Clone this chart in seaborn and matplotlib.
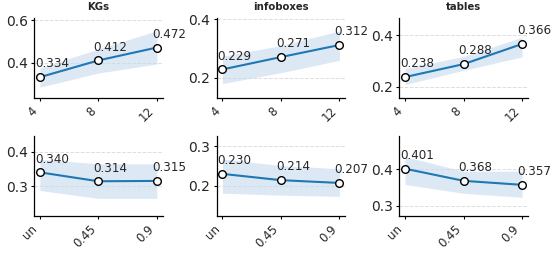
"""Line plots with confidence bands for KGs / infoboxes / tables."""

import matplotlib
matplotlib.use('Agg')
import matplotlib.pyplot as plt
import pandas as pd
import seaborn as sns

sources = ['KGs', 'infoboxes', 'tables']
top_labels = ['4', '8', '12']
bottom_labels = ['un', '0.45', '0.9']

# top row: varying size
top_mean = {
    'KGs': [0.334, 0.412, 0.472],
    'infoboxes': [0.229, 0.271, 0.312],
    'tables': [0.238, 0.288, 0.366],
}
top_low = {
    'KGs': [0.287, 0.353, 0.395],
    'infoboxes': [0.181, 0.218, 0.260],
    'tables': [0.209, 0.264, 0.316],
}
top_high = {
    'KGs': [0.377, 0.465, 0.550],
    'infoboxes': [0.274, 0.310, 0.360],
    'tables': [0.271, 0.318, 0.392],
}

# bottom row: varying threshold
bottom_mean = {
    'KGs': [0.340, 0.314, 0.315],
    'infoboxes': [0.230, 0.214, 0.207],
    'tables': [0.401, 0.368, 0.357],
}
bottom_low = {
    'KGs': [0.287, 0.264, 0.264],
    'infoboxes': [0.181, 0.176, 0.173],
    'tables': [0.358, 0.334, 0.323],
}
bottom_high = {
    'KGs': [0.378, 0.365, 0.365],
    'infoboxes': [0.268, 0.251, 0.243],
    'tables': [0.434, 0.394, 0.394],
}

top_ylim = {'KGs': (0.237, 0.61), 'infoboxes': (0.132, 0.404), 'tables': (0.157, 0.467)}
bottom_ylim = {'KGs': (0.2125, 0.446), 'infoboxes': (0.123, 0.326), 'tables': (0.272, 0.49)}
top_yticks = {'KGs': [0.4, 0.6], 'infoboxes': [0.2, 0.4], 'tables': [0.2, 0.4]}
bottom_yticks = {'KGs': [0.3, 0.4], 'infoboxes': [0.2, 0.3], 'tables': [0.3, 0.4]}

LINE = '#1f77b4'
BAND = '#c6dbef'


def _plot(ax, labels, mean, low, high, ylim, yticks, title=None):
    df = pd.DataFrame({'pos': range(len(labels)), 'score': mean})
    ax.fill_between(df['pos'], low, high, color=BAND, alpha=0.6, linewidth=0)
    sns.lineplot(data=df, x='pos', y='score', ax=ax, color=LINE, linewidth=1.5,
                 marker='o', markersize=5.5, markerfacecolor='white',
                 markeredgecolor='black', markeredgewidth=1.0, zorder=3)
    for x, y in zip(df['pos'], mean):
        ax.annotate(f'{y:.3f}', (x, y), xytext=(-3.5, 7), textcoords='offset points',
                    ha='left', va='baseline', fontsize=8.6)
    ax.set_xlim(-0.1, len(labels) - 0.9)
    ax.set_xticks(list(df['pos']))
    ax.set_xticklabels(labels, rotation=45, ha='right', fontsize=8.5)
    ax.set_ylim(*ylim)
    ax.set_yticks(yticks)
    ax.tick_params(axis='y', labelsize=10)
    ax.tick_params(axis='both', bottom=True, left=True, length=2.5, width=0.8,
                   color='black', pad=2)
    ax.grid(axis='y', linestyle='--', color='#dddddd', linewidth=0.7)
    ax.set_axisbelow(True)
    ax.set_xlabel('')
    ax.set_ylabel('')
    if title:
        ax.set_title(title, fontsize=7.3, fontweight='bold')
    sns.despine(ax=ax)


def main():
    sns.set_style('white')
    fig, axes = plt.subplots(2, 3, figsize=(5.58, 2.56), dpi=100)
    fig.subplots_adjust(left=0.061, right=0.946, top=0.93, bottom=0.156,
                        wspace=0.419, hspace=0.475)
    for j, name in enumerate(sources):
        _plot(axes[0, j], top_labels, top_mean[name], top_low[name], top_high[name],
              top_ylim[name], top_yticks[name], title=name)
        _plot(axes[1, j], bottom_labels, bottom_mean[name], bottom_low[name],
              bottom_high[name], bottom_ylim[name], bottom_yticks[name])
    for ax in axes.ravel():
        for s in ('left', 'bottom'):
            ax.spines[s].set_color('black')
            ax.spines[s].set_linewidth(0.9)
    fig.savefig('out.png', dpi=100)


if __name__ == '__main__':
    main()
